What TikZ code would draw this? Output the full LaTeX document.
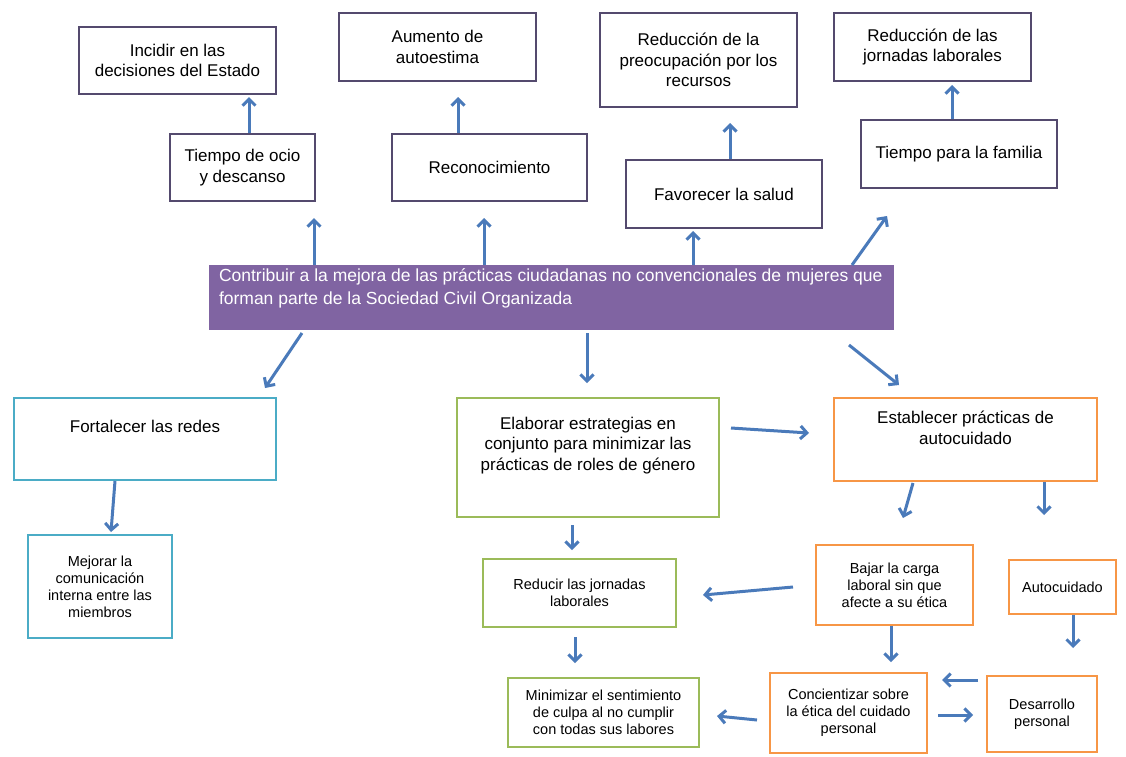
\documentclass[tikz,border=0pt]{standalone}
\usepackage{fontspec}
\setmainfont{Liberation Sans}
\usetikzlibrary{arrows.meta}
\definecolor{arrblue}{RGB}{74,122,186}
\definecolor{topc}{RGB}{84,74,110}
\definecolor{tealc}{RGB}{75,172,198}
\definecolor{greenc}{RGB}{155,187,89}
\definecolor{orangec}{RGB}{247,150,70}
\definecolor{purplec}{RGB}{128,100,162}
\newcommand{\topbx}[4]{\parbox[c][#2][t]{#1}{\centering\vspace*{#3}#4\par}}
\begin{document}
\begin{tikzpicture}[x=1pt,y=-1pt,
 bx/.style={draw, rectangle, inner sep=0pt, align=center, line width=2.2pt},
 topb/.style={bx, draw=topc, line width=2pt, font=\fontsize{17}{20.5}\selectfont},
 tealb/.style={bx, draw=tealc},
 greenb/.style={bx, draw=greenc},
 orangeb/.style={bx, draw=orangec},
 bigt/.style={font=\fontsize{17}{20.5}\selectfont},
 smallt/.style={font=\fontsize{14.5}{17}\selectfont},
 arr/.style={draw=arrblue, line width=3pt, -{Straight Barb[length=6.5pt,width=13pt,line width=3pt]}},
]
\useasboundingbox[fill=white] (0,0) rectangle (1126,756);

% top row
\node[topb, minimum width=197pt, minimum height=67pt] (inc) at (177.5,60.5) {Incidir en las\\decisiones del Estado};
\node[topb, minimum width=197pt, minimum height=68pt] (aum) at (437.5,47) {Aumento de\\autoestima};
\node[topb, minimum width=197pt, minimum height=94pt] (rpre) at (698.5,60) {Reducción de la\\preocupación por los\\recursos};
\node[topb, minimum width=197pt, minimum height=68pt] (rjor) at (932.5,47) {Reducción de las\\jornadas laborales};
% second row
\node[topb, minimum width=145pt, minimum height=67pt] (ocio) at (242.5,167.5) {Tiempo de ocio\\y descanso};
\node[topb, minimum width=195pt, minimum height=67pt] (reco) at (489.5,167.5) {Reconocimiento};
\node[topb, minimum width=196pt, minimum height=68pt] (favo) at (724,194) {Favorecer la salud};
\node[topb, minimum width=196pt, minimum height=68pt] (fami) at (959,154) {Tiempo para la familia};
% central
\node[rectangle, fill=purplec, inner sep=0pt, minimum width=685pt, minimum height=65pt] (cen) at (551.5,297.5)
 {\parbox[c][65pt][t]{685pt}{\raggedright\leftskip=10pt\parindent=0pt\vspace*{4pt}\color{white}\fontsize{17.5}{23}\selectfont Contribuir a la mejora de las prácticas ciudadanas no convencionales de mujeres que\\forman parte de la Sociedad Civil Organizada\par}};
% lower
\node[tealb, bigt, minimum width=262pt, minimum height=82pt] (fort) at (145,439) {\topbx{262pt}{82pt}{22pt}{Fortalecer las redes}};
\node[tealb, smallt, minimum width=144pt, minimum height=103pt] (mejo) at (100,586.5) {Mejorar la\\comunicación\\interna entre las\\miembros};
\node[greenb, bigt, minimum width=262pt, minimum height=119pt] (elab) at (588,457.5) {\topbx{262pt}{119pt}{19pt}{Elaborar estrategias en\\conjunto para minimizar las\\prácticas de roles de género}};
\node[orangeb, bigt, minimum width=263pt, minimum height=83pt] (esta) at (965.5,439.5) {\topbx{263pt}{83pt}{13pt}{Establecer prácticas de\\autocuidado}};
\node[greenb, smallt, minimum width=193pt, minimum height=68pt] (redu) at (579.5,593) {Reducir las jornadas\\laborales};
\node[orangeb, smallt, minimum width=157pt, minimum height=80pt] (baja) at (894.5,585) {Bajar la carga\\laboral sin que\\afecte a su ética};
\node[orangeb, smallt, minimum width=107pt, minimum height=54pt] (auto) at (1062.5,587) {Autocuidado};
\node[greenb, smallt, minimum width=191pt, minimum height=69pt] (mini) at (603.5,712.5) {Minimizar el sentimiento\\de culpa al no cumplir\\con todas sus labores};
\node[orangeb, smallt, minimum width=157pt, minimum height=80pt] (conc) at (848.5,713) {Concientizar sobre\\la ética del cuidado\\personal};
\node[orangeb, smallt, minimum width=110pt, minimum height=76pt] (desa) at (1042,714) {Desarrollo\\personal};

% arrow end points
\coordinate (e1) at (314,218);
\coordinate (e2) at (484,218);
\coordinate (e3) at (693,231);
\coordinate (s4) at (852,265); \coordinate (e4) at (887,216);
\coordinate (e5) at (249,97);
\coordinate (e6) at (458,97);
\coordinate (e7) at (730,123);
\coordinate (e8) at (952,85);
\coordinate (s9) at (302,333); \coordinate (e9) at (265,388);
\coordinate (s10) at (587,333); \coordinate (e10) at (587,383);
\coordinate (s11) at (849,345); \coordinate (e11) at (899,385);
\coordinate (s12) at (731,428); \coordinate (e12) at (809,433);
\coordinate (s13) at (115,481); \coordinate (e13) at (111,532);
\coordinate (s14) at (572,525); \coordinate (e14) at (572,550);
\coordinate (s15) at (575,637); \coordinate (e15) at (575,663);
\coordinate (s16) at (793,587); \coordinate (e16) at (703,595);
\coordinate (s17) at (757,720); \coordinate (e17) at (717,716);
\coordinate (s18) at (913,483); \coordinate (e18) at (903,518);
\coordinate (e19) at (1044,515);
\coordinate (e20) at (891,662);
\coordinate (e21) at (1073,648);
\coordinate (s22) at (978,680); \coordinate (e22) at (942,680);
\coordinate (s23) at (938,715); \coordinate (e23) at (973,715);

\draw[arr] (cen.north -| e1) -- (e1);
\draw[arr] (cen.north -| e2) -- (e2);
\draw[arr] (cen.north -| e3) -- (e3);
\draw[arr] (s4) -- (e4);
\draw[arr] (ocio.north -| e5) -- (e5);
\draw[arr] (reco.north -| e6) -- (e6);
\draw[arr] (favo.north -| e7) -- (e7);
\draw[arr] (fami.north -| e8) -- (e8);
\draw[arr] (s9) -- (e9);
\draw[arr] (s10) -- (e10);
\draw[arr] (s11) -- (e11);
\draw[arr] (s12) -- (e12);
\draw[arr] (s13) -- (e13);
\draw[arr] (s14) -- (e14);
\draw[arr] (s15) -- (e15);
\draw[arr] (s16) -- (e16);
\draw[arr] (s17) -- (e17);
\draw[arr] (s18) -- (e18);
\draw[arr] (esta.south -| e19) -- (e19);
\draw[arr] (baja.south -| e20) -- (e20);
\draw[arr] (auto.south -| e21) -- (e21);
\draw[arr] (s22) -- (e22);
\draw[arr] (s23) -- (e23);
\end{tikzpicture}
\end{document}
